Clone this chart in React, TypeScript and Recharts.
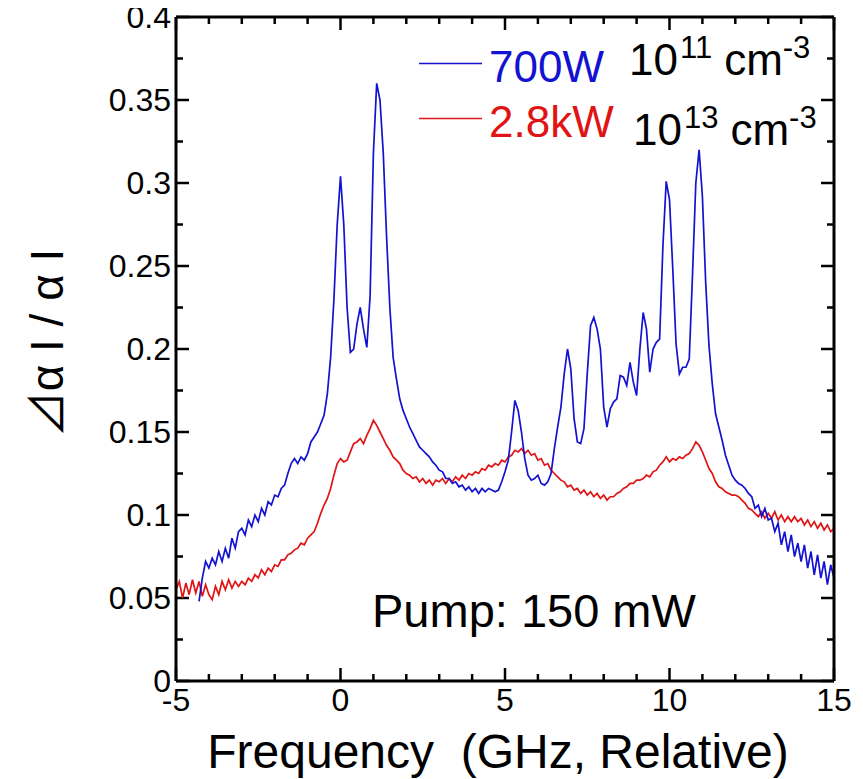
import { Line, LineChart, XAxis, YAxis } from "recharts";

// frequency grid, GHz (relative)
const freq = [
  -5.0, -4.9, -4.8, -4.7, -4.6, -4.5, -4.4, -4.3, -4.2, -4.1,
  -4.0, -3.9, -3.8, -3.7, -3.6, -3.5, -3.4, -3.3, -3.2, -3.1,
  -3.0, -2.9, -2.8, -2.7, -2.6, -2.5, -2.4, -2.3, -2.2, -2.1,
  -2.0, -1.9, -1.8, -1.7, -1.6, -1.5, -1.4, -1.3, -1.2, -1.1,
  -1.0, -0.9, -0.8, -0.7, -0.6, -0.5, -0.4, -0.3, -0.2, -0.1,
  0.0, 0.1, 0.2, 0.3, 0.4, 0.5, 0.6, 0.7, 0.8, 0.9,
  1.0, 1.1, 1.2, 1.3, 1.4, 1.5, 1.6, 1.7, 1.8, 1.9,
  2.0, 2.1, 2.2, 2.3, 2.4, 2.5, 2.6, 2.7, 2.8, 2.9,
  3.0, 3.1, 3.2, 3.3, 3.4, 3.5, 3.6, 3.7, 3.8, 3.9,
  4.0, 4.1, 4.2, 4.3, 4.4, 4.5, 4.6, 4.7, 4.8, 4.9,
  5.0, 5.1, 5.2, 5.3, 5.4, 5.5, 5.6, 5.7, 5.8, 5.9,
  6.0, 6.1, 6.2, 6.3, 6.4, 6.5, 6.6, 6.7, 6.8, 6.9,
  7.0, 7.1, 7.2, 7.3, 7.4, 7.5, 7.6, 7.7, 7.8, 7.9,
  8.0, 8.1, 8.2, 8.3, 8.4, 8.5, 8.6, 8.7, 8.8, 8.9,
  9.0, 9.1, 9.2, 9.3, 9.4, 9.5, 9.6, 9.7, 9.8, 9.9,
  10.0, 10.1, 10.2, 10.3, 10.4, 10.5, 10.6, 10.7, 10.8, 10.9,
  11.0, 11.1, 11.2, 11.3, 11.4, 11.5, 11.6, 11.7, 11.8, 11.9,
  12.0, 12.1, 12.2, 12.3, 12.4, 12.5, 12.6, 12.7, 12.8, 12.9,
  13.0, 13.1, 13.2, 13.3, 13.4, 13.5, 13.6, 13.7, 13.8, 13.9,
  14.0, 14.1, 14.2, 14.3, 14.4, 14.5, 14.6, 14.7, 14.8, 14.9,
  15.0,
];

// 700 W discharge (1e11 cm^-3)
const blue700W = [
  null, null, null, null, null, null, null, 0.048, 0.062, 0.072,
  0.068, 0.074, 0.070, 0.078, 0.072, 0.080, 0.074, 0.086, 0.080, 0.090,
  0.092, 0.088, 0.097, 0.093, 0.100, 0.096, 0.104, 0.100, 0.108, 0.106,
  0.112, 0.111, 0.116, 0.118, 0.125, 0.131, 0.134, 0.131, 0.135, 0.133,
  0.137, 0.144, 0.147, 0.150, 0.155, 0.160, 0.173, 0.195, 0.230, 0.275,
  0.304, 0.275, 0.225, 0.198, 0.200, 0.215, 0.225, 0.212, 0.201, 0.232,
  0.318, 0.360, 0.350, 0.318, 0.268, 0.225, 0.195, 0.182, 0.170, 0.163,
  0.158, 0.153, 0.149, 0.145, 0.141, 0.139, 0.137, 0.135, 0.132, 0.130,
  0.127, 0.126, 0.122, 0.122, 0.119, 0.120, 0.117, 0.118, 0.115, 0.117,
  0.114, 0.116, 0.113, 0.116, 0.114, 0.116, 0.115, 0.114, 0.115, 0.120,
  0.126, 0.133, 0.150, 0.169, 0.163, 0.150, 0.134, 0.124, 0.121, 0.122,
  0.124, 0.119, 0.118, 0.120, 0.125, 0.140, 0.153, 0.165, 0.185, 0.200,
  0.188, 0.158, 0.144, 0.143, 0.152, 0.185, 0.214, 0.219, 0.212, 0.200,
  0.165, 0.153, 0.164, 0.168, 0.170, 0.184, 0.183, 0.178, 0.192, 0.180,
  0.172, 0.200, 0.222, 0.212, 0.186, 0.200, 0.204, 0.206, 0.262, 0.301,
  0.290, 0.248, 0.203, 0.185, 0.189, 0.189, 0.194, 0.245, 0.300, 0.320,
  0.292, 0.240, 0.202, 0.179, 0.161, 0.153, 0.145, 0.136, 0.130, 0.124,
  0.121, 0.119, 0.118, 0.116, 0.113, 0.111, 0.104, 0.106, 0.099, 0.104,
  0.097, 0.098, 0.090, 0.095, 0.082, 0.090, 0.078, 0.088, 0.075, 0.083,
  0.072, 0.082, 0.068, 0.078, 0.064, 0.076, 0.062, 0.072, 0.058, 0.070,
  0.062,
];

// 2.8 kW discharge (1e13 cm^-3)
const red28kW = [
  0.055, 0.060, 0.050, 0.059, 0.052, 0.061, 0.053, 0.060, 0.051, 0.058,
  0.052, 0.049, 0.057, 0.052, 0.060, 0.055, 0.061, 0.056, 0.060, 0.057,
  0.060, 0.058, 0.062, 0.060, 0.064, 0.062, 0.067, 0.064, 0.068, 0.066,
  0.070, 0.069, 0.073, 0.073, 0.076, 0.077, 0.079, 0.080, 0.083, 0.082,
  0.086, 0.088, 0.090, 0.095, 0.101, 0.106, 0.110, 0.116, 0.124, 0.131,
  0.134, 0.132, 0.133, 0.138, 0.143, 0.144, 0.146, 0.143, 0.148, 0.152,
  0.157, 0.154, 0.150, 0.146, 0.142, 0.139, 0.135, 0.133, 0.131, 0.127,
  0.125, 0.124, 0.122, 0.123, 0.120, 0.122, 0.119, 0.121, 0.118, 0.121,
  0.120, 0.122, 0.119, 0.122, 0.120, 0.123, 0.121, 0.124, 0.122, 0.125,
  0.124, 0.126, 0.125, 0.128, 0.127, 0.130, 0.129, 0.131, 0.130, 0.133,
  0.132, 0.135, 0.136, 0.139, 0.138, 0.140, 0.137, 0.139, 0.136, 0.137,
  0.133, 0.134, 0.130, 0.131, 0.127, 0.125, 0.123, 0.121, 0.120, 0.117,
  0.118, 0.115, 0.116, 0.113, 0.115, 0.112, 0.114, 0.111, 0.113, 0.110,
  0.112, 0.109, 0.111, 0.111, 0.113, 0.114, 0.116, 0.117, 0.119, 0.119,
  0.121, 0.121, 0.122, 0.124, 0.123, 0.126, 0.127, 0.130, 0.132, 0.135,
  0.132, 0.134, 0.133, 0.135, 0.134, 0.136, 0.137, 0.140, 0.144, 0.142,
  0.138, 0.133, 0.128, 0.125, 0.120, 0.117, 0.116, 0.114, 0.113, 0.112,
  0.112, 0.111, 0.109, 0.107, 0.104, 0.103, 0.101, 0.099, 0.102, 0.098,
  0.101, 0.098, 0.102, 0.097, 0.100, 0.096, 0.099, 0.096, 0.099, 0.096,
  0.098, 0.094, 0.097, 0.093, 0.096, 0.092, 0.095, 0.091, 0.094, 0.090,
  0.092,
];

const xTicks = [-5, -4, -3, -2, -1, 0, 1, 2, 3, 4, 5, 6, 7, 8, 9, 10, 11, 12, 13, 14, 15];
const xMajor = [-5, 0, 5, 10, 15];
const yTicks = [
  0, 0.025, 0.05, 0.075, 0.1, 0.125, 0.15, 0.175, 0.2,
  0.225, 0.25, 0.275, 0.3, 0.325, 0.35, 0.375, 0.4,
];
const yLabels = [
  "0", "", "0.05", "", "0.1", "", "0.15", "", "0.2",
  "", "0.25", "", "0.3", "", "0.35", "", "0.4",
];

const X_MIN = -5;
const X_MAX = 15;
const Y_MIN = 0;
const Y_MAX = 0.4;

const chartData = freq.map((f, i) => ({
  f,
  blue: blue700W[i],
  red: red28kW[i],
}));

// chart box (wrapper coords)
const W = 855;
const H = 771;
const M = { top: 8, right: 28, left: 68, bottom: 38 };
const Y_AXIS_W = 100;
const X_AXIS_H = 60;
const PLOT_L = M.left + Y_AXIS_W;
const PLOT_R = W - M.right - 1;
const PLOT_T = M.top + 1;
const PLOT_B = H - M.bottom - X_AXIS_H;
const sx = (v: number) => PLOT_L + ((v - X_MIN) / (X_MAX - X_MIN)) * (PLOT_R - PLOT_L);
const sy = (v: number) => PLOT_B - ((v - Y_MIN) / (Y_MAX - Y_MIN)) * (PLOT_B - PLOT_T);

const FONT = "'Liberation Sans', Arial, sans-serif";
const BLUE = "#1212d0";
const RED = "#e01414";
const AXIS = { stroke: "#000", strokeWidth: 3 };
const LABEL = { fontSize: 32, fill: "#000", fontFamily: FONT };
const MAJOR = 13;
const MINOR = 7;

const xFormat = (v: number) => (xMajor.includes(v) ? String(v) : "");
const yFormat = (_v: number, i: number) => yLabels[i] ?? "";
const blank = () => "";

export default function App() {
  return (
    <div style={{ position: "relative", width: W, height: H }}>
      {/* annotation + inward tick layer, underneath the transparent chart */}
      <svg width={W} height={H} style={{ position: "absolute", left: 0, top: 0 }} fontFamily={FONT}>
        {xTicks.map((v) => {
          const len = xMajor.includes(v) ? MAJOR : MINOR;
          return (
            <g key={`xt${v}`} stroke="#000" strokeWidth={2.5}>
              <line x1={sx(v)} x2={sx(v)} y1={PLOT_B} y2={PLOT_B - len} />
              <line x1={sx(v)} x2={sx(v)} y1={PLOT_T} y2={PLOT_T + len} />
            </g>
          );
        })}
        {yTicks.map((v, i) => {
          const len = yLabels[i] ? MAJOR : MINOR;
          return (
            <g key={`yt${v}`} stroke="#000" strokeWidth={2.5}>
              <line x1={PLOT_L} x2={PLOT_L + len} y1={sy(v)} y2={sy(v)} />
              <line x1={PLOT_R} x2={PLOT_R - len} y1={sy(v)} y2={sy(v)} />
            </g>
          );
        })}

        <line x1={411} x2={474} y1={55.5} y2={55.5} stroke={BLUE} strokeWidth={1.5} />
        <text x={481} y={74} fontSize={44} fill={BLUE}>700W</text>
        <text x={621} y={67} fontSize={44} fill="#000">
          10<tspan fontSize={31} dy={-17} dx={2}>11</tspan>
          <tspan fontSize={44} dy={17} dx={12}>cm</tspan>
          <tspan fontSize={31} dy={-17}>-3</tspan>
        </text>

        <line x1={411} x2={474} y1={110.5} y2={110.5} stroke={RED} strokeWidth={1.5} />
        <text x={481} y={129} fontSize={44} fill={RED}>2.8kW</text>
        <text x={625} y={137} fontSize={44} fill="#000">
          10<tspan fontSize={31} dy={-17} dx={2}>13</tspan>
          <tspan fontSize={44} dy={17} dx={12}>cm</tspan>
          <tspan fontSize={31} dy={-17}>-3</tspan>
        </text>

        <text x={364} y={619} fontSize={47} fill="#000">Pump: 150 mW</text>

        <text
          x={490}
          y={760}
          textAnchor="middle"
          fontSize={48}
          fill="#000"
          xmlSpace="preserve"
          style={{ whiteSpace: "pre" }}
        >
          {"Frequency  (GHz, Relative)"}
        </text>

        <text
          transform="translate(55, 335) rotate(-90)"
          textAnchor="middle"
          fontSize={46}
          fill="#000"
          xmlSpace="preserve"
          style={{ whiteSpace: "pre" }}
        >
          <tspan fontFamily="'Noto Sans CJK JP', sans-serif">⊿</tspan>
          {"α I / α I"}
        </text>
      </svg>

      <div style={{ position: "absolute", left: 0, top: 0 }}>
        <LineChart width={W} height={H} data={chartData} margin={M}>
          <XAxis
            xAxisId="b"
            dataKey="f"
            type="number"
            domain={[X_MIN, X_MAX]}
            ticks={xTicks}
            interval={0}
            height={X_AXIS_H}
            tickSize={0}
            tickMargin={7}
            tickLine={false}
            axisLine={AXIS}
            tick={LABEL}
            tickFormatter={xFormat}
          />
          <YAxis
            yAxisId="l"
            type="number"
            domain={[Y_MIN, Y_MAX]}
            ticks={yTicks}
            interval={0}
            width={Y_AXIS_W}
            tickSize={0}
            tickMargin={5}
            tickLine={false}
            axisLine={AXIS}
            tick={LABEL}
            tickFormatter={yFormat}
          />
          <XAxis
            xAxisId="t"
            orientation="top"
            dataKey="f"
            type="number"
            domain={[X_MIN, X_MAX]}
            ticks={xTicks}
            height={1}
            tickLine={false}
            axisLine={AXIS}
            tickFormatter={blank}
          />
          <YAxis
            yAxisId="r"
            orientation="right"
            type="number"
            domain={[Y_MIN, Y_MAX]}
            ticks={yTicks}
            width={1}
            tickLine={false}
            axisLine={AXIS}
            tickFormatter={blank}
          />
          {/* binds the top/right frame axes to the chart; drawn invisibly */}
          <Line
            xAxisId="t"
            yAxisId="r"
            dataKey="red"
            stroke="none"
            dot={false}
            legendType="none"
            isAnimationActive={false}
          />
          <Line
            xAxisId="b"
            yAxisId="l"
            type="linear"
            dataKey="red"
            stroke={RED}
            strokeWidth={1.7}
            dot={false}
            isAnimationActive={false}
          />
          <Line
            xAxisId="b"
            yAxisId="l"
            type="linear"
            dataKey="blue"
            stroke={BLUE}
            strokeWidth={1.7}
            dot={false}
            isAnimationActive={false}
          />
        </LineChart>
      </div>
    </div>
  );
}
